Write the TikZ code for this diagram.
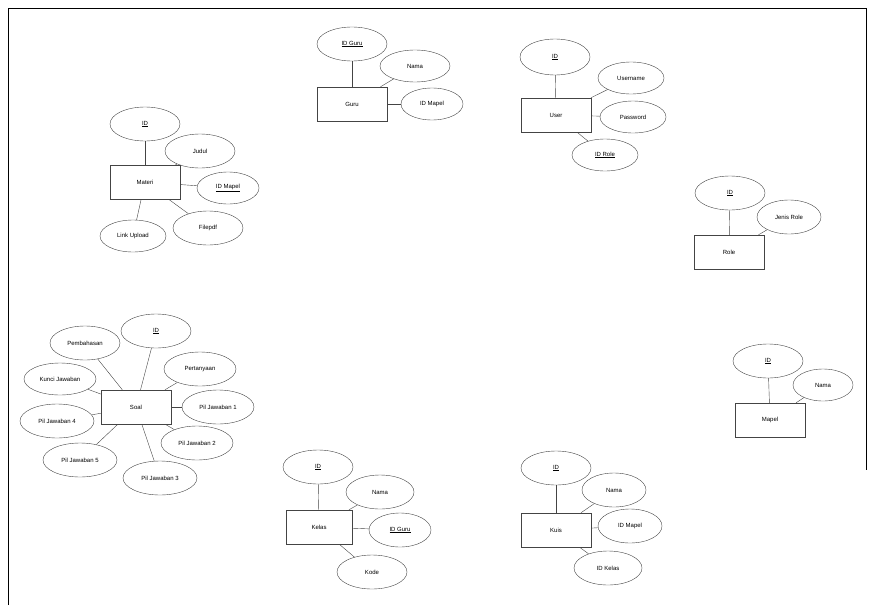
\documentclass[tikz,border=0pt]{standalone}
\usepackage{fontspec}
\setmainfont{Liberation Sans}
\usepackage{tikz}
\usetikzlibrary{shapes.geometric}
\definecolor{linecolor}{HTML}{444444}
\tikzset{
  er entity/.style={draw=linecolor,thin,rectangle,minimum width=70pt,minimum height=34pt,inner sep=0pt},
  er attr/.style={draw=linecolor,thin,ellipse,minimum width=70pt,minimum height=34pt,inner sep=0pt},
  er link/.style={draw=linecolor,thin},
  er frame/.style={draw=black,line width=.8pt}
}
\newcommand{\erkey}[1]{\underline{#1}}

\begin{document}
\begin{tikzpicture}[x=1pt,y=-1pt,font=\fontsize{6}{7}\selectfont]
  \useasboundingbox (0,0) rectangle (872,605);
  \draw[er frame] (8,605)--(8,8)--(866,8)--(866,470);
  % Materi
  \node[er entity] (materi) at (145,182) {Materi};
  \node[er attr] (materiId) at (145,124) {\erkey{ID}};
  \node[er attr] (materiJudul) at (200,151) {Judul};
  \node[er attr,minimum width=62pt,minimum height=32pt] (materiMapel) at (228,188) {\erkey{ID Mapel}};
  \node[er attr] (materiFile) at (208,228) {Filepdf};
  \node[er attr,minimum width=66pt,minimum height=32pt] (materiLink) at (133,236) {Link Upload};
  \foreach \a in {materiId,materiJudul,materiMapel,materiFile,materiLink}{\draw[er link] (materi) -- (\a);}
  % Guru
  \node[er entity] (guru) at (352,104) {Guru};
  \node[er attr] (guruId) at (352,44) {\erkey{ID Guru}};
  \node[er attr,minimum height=32pt] (guruNama) at (415,66) {Nama};
  \node[er attr,minimum width=62pt,minimum height=32pt] (guruMapel) at (432,104) {ID Mapel};
  \foreach \a in {guruId,guruNama,guruMapel}{\draw[er link] (guru) -- (\a);}
  % User
  \node[er entity] (user) at (556,115) {User};
  \node[er attr,minimum height=36pt] (userId) at (555,57) {\erkey{ID}};
  \node[er attr,minimum width=66pt,minimum height=32pt] (userName) at (631,78) {Username};
  \node[er attr,minimum width=66pt,minimum height=32pt] (userPass) at (633,117) {Password};
  \node[er attr,minimum width=66pt,minimum height=32pt] (userRole) at (605,155) {\erkey{ID Role}};
  \foreach \a in {userId,userName,userPass,userRole}{\draw[er link] (user) -- (\a);}
  % Role
  \node[er entity] (role) at (729,252) {Role};
  \node[er attr] (roleId) at (730,193) {\erkey{ID}};
  \node[er attr,minimum width=64pt] (roleJenis) at (789,217) {Jenis Role};
  \foreach \a in {roleId,roleJenis}{\draw[er link] (role) -- (\a);}
  % Mapel
  \node[er entity] (mapel) at (770,420) {Mapel};
  \node[er attr] (mapelId) at (768,361) {\erkey{ID}};
  \node[er attr,minimum width=60pt,minimum height=32pt] (mapelNama) at (823,385) {Nama};
  \foreach \a in {mapelId,mapelNama}{\draw[er link] (mapel) -- (\a);}
  % Soal
  \node[er entity] (soal) at (136,407) {Soal};
  \node[er attr] (soalId) at (156,331) {\erkey{ID}};
  \node[er attr] (soalBahas) at (85,343) {Pembahasan};
  \node[er attr,minimum width=72pt,minimum height=32pt] (soalKunci) at (60,379) {Kunci Jawaban};
  \node[er attr,minimum width=72pt] (soalTanya) at (200,369) {Pertanyaan};
  \node[er attr,minimum width=72pt] (soalPilA) at (218,407) {Pil Jawaban 1};
  \node[er attr,minimum width=72pt] (soalPilB) at (197,443) {Pil Jawaban 2};
  \node[er attr,minimum width=74pt] (soalPilC) at (160,478) {Pil Jawaban 3};
  \node[er attr,minimum width=74pt] (soalPilD) at (57,421) {Pil Jawaban 4};
  \node[er attr,minimum width=74pt] (soalPilE) at (80,460) {Pil Jawaban 5};
  \foreach \a in {soalId,soalBahas,soalKunci,soalTanya,soalPilA,soalPilB,soalPilC,soalPilD,soalPilE}{\draw[er link] (soal) -- (\a);}
  % Kelas
  \node[er entity,minimum width=66pt] (kelas) at (319,527) {Kelas};
  \node[er attr] (kelasId) at (318,467) {\erkey{ID}};
  \node[er attr,minimum width=68pt] (kelasNama) at (380,492) {Nama};
  \node[er attr,minimum width=62pt] (kelasGuru) at (400,530) {\erkey{ID Guru}};
  \node[er attr] (kelasKode) at (372,572) {Kode};
  \foreach \a in {kelasId,kelasNama,kelasGuru,kelasKode}{\draw[er link] (kelas) -- (\a);}
  % Kuis
  \node[er entity] (kuis) at (556,530) {Kuis};
  \node[er attr] (kuisId) at (556,468) {\erkey{ID}};
  \node[er attr,minimum width=64pt] (kuisNama) at (614,490) {Nama};
  \node[er attr,minimum width=64pt] (kuisMapel) at (630,526) {ID Mapel};
  \node[er attr,minimum width=68pt] (kuisKelas) at (608,568) {ID Kelas};
  \foreach \a in {kuisId,kuisNama,kuisMapel,kuisKelas}{\draw[er link] (kuis) -- (\a);}
\end{tikzpicture}
\end{document}
